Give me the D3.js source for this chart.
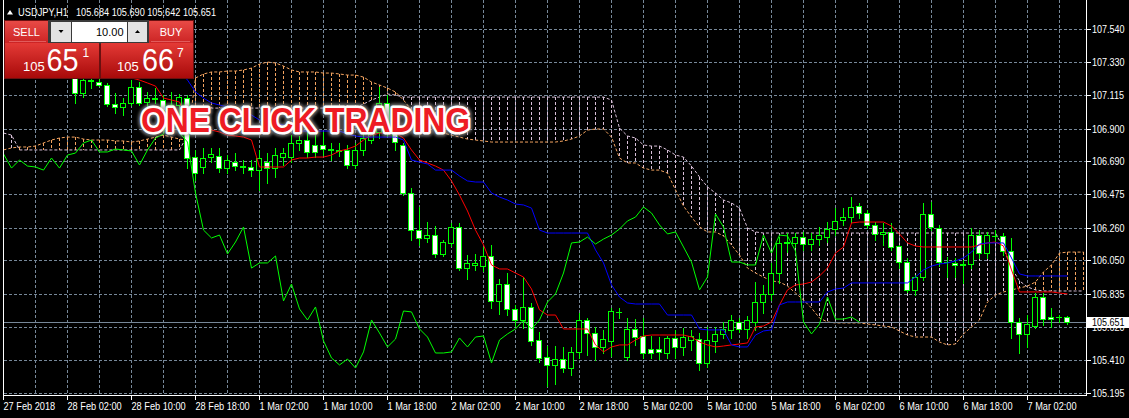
<!DOCTYPE html>
<html><head><meta charset="utf-8">
<script src="https://cdn.jsdelivr.net/npm/d3@7/dist/d3.min.js"></script>
<style>html,body{margin:0;padding:0;background:#000;overflow:hidden}svg{display:block}</style>
</head><body>
<svg id="chart" width="1129" height="418"></svg>
<script>
// ---------------- DATA ----------------
const symbol = "USDJPY,H1";
const headerOHLC = ["105.684", "105.690", "105.642", "105.651"];
const lotSize = "10.00";
const sellQuote = ["105", "65", "1"];
const buyQuote = ["105", "66", "7"];
const bannerText = "ONE CLICK TRADING";
const lastPrice = 105.651;
const chikouShift = 26;

const priceTicks = [107.540, 107.330, 107.115, 106.900, 106.690, 106.475, 106.260, 106.050, 105.835, 105.620, 105.410, 105.195];
const timeLabelBars = [0, 8, 16, 24, 32, 40, 48, 56, 64, 72, 80, 88, 96, 104, 112, 120, 128];
const timeLabels = ["27 Feb 2018", "28 Feb 02:00", "28 Feb 10:00", "28 Feb 18:00", "1 Mar 02:00", "1 Mar 10:00", "1 Mar 18:00", "2 Mar 02:00", "2 Mar 10:00", "2 Mar 18:00", "5 Mar 02:00", "5 Mar 10:00", "5 Mar 18:00", "6 Mar 02:00", "6 Mar 10:00", "6 Mar 18:00", "7 Mar 02:00"];

const open = [107.342,107.407,107.439,107.394,107.419,107.471,107.432,107.374,107.329,107.265,
107.129,107.213,107.200,107.181,107.058,107.039,107.065,107.168,107.071,107.090,
107.084,107.007,107.052,107.097,106.716,106.652,106.716,106.723,106.645,106.684,
106.658,106.652,106.632,106.684,106.645,106.716,106.716,106.807,106.826,106.794,
106.794,106.768,106.762,106.762,106.665,106.762,106.826,106.878,107.065,106.871,
106.794,106.484,106.245,106.194,106.213,106.091,106.162,106.265,106.000,106.020,
106.013,106.078,105.788,105.897,105.736,105.665,105.749,105.536,105.426,105.375,
105.413,105.355,105.459,105.665,105.581,105.491,105.530,105.717,105.426,105.607,
105.562,105.478,105.478,105.452,105.549,105.491,105.536,105.542,105.388,105.530,
105.575,105.601,105.652,105.607,105.652,105.781,105.833,105.968,106.162,106.162,
106.200,106.155,106.187,106.200,106.252,106.310,106.329,106.400,106.355,106.278,
106.220,106.233,106.142,106.039,105.859,105.942,106.349,106.258,106.039,106.033,
106.026,106.026,106.213,106.097,106.207,106.207,106.110,105.652,105.575,105.626,
105.813,105.684,105.684,105.684];
const high = [107.439,107.484,107.503,107.471,107.503,107.536,107.484,107.439,107.407,107.310,
107.278,107.239,107.219,107.194,107.129,107.097,107.213,107.200,107.136,107.161,
107.116,107.136,107.123,107.116,106.762,106.775,106.775,106.775,106.729,106.742,
106.697,106.697,106.762,106.742,106.775,106.775,106.858,106.852,106.878,106.858,
106.878,106.807,106.807,106.794,106.807,106.871,106.903,107.168,107.116,106.910,
106.807,106.517,106.394,106.297,106.271,106.181,106.291,106.291,106.084,106.091,
106.136,106.149,105.929,105.968,105.762,105.942,105.775,105.588,105.497,105.497,
105.491,105.491,105.710,105.678,105.620,105.601,105.742,105.742,105.678,105.671,
105.678,105.562,105.555,105.562,105.601,105.613,105.601,105.581,105.620,105.620,
105.652,105.697,105.678,105.691,105.910,105.891,106.033,106.200,106.226,106.226,
106.233,106.226,106.265,106.297,106.387,106.387,106.458,106.420,106.374,106.297,
106.291,106.291,106.149,106.065,105.955,106.420,106.426,106.278,106.071,106.065,
106.052,106.258,106.245,106.233,106.245,106.226,106.194,105.678,105.697,105.839,
105.839,105.742,105.697,105.690];
const low = [107.290,107.355,107.374,107.329,107.368,107.394,107.342,107.278,107.245,107.065,
107.103,107.161,107.174,107.045,107.000,106.987,107.052,107.052,107.019,107.065,
106.903,106.968,106.987,106.645,106.568,106.613,106.684,106.620,106.613,106.632,
106.613,106.594,106.504,106.549,106.588,106.665,106.684,106.762,106.716,106.716,
106.729,106.697,106.723,106.645,106.645,106.729,106.807,106.839,106.852,106.762,
106.471,106.181,106.149,106.168,106.071,106.078,106.142,105.988,105.929,105.988,
105.981,105.742,105.704,105.697,105.626,105.613,105.504,105.394,105.239,105.252,
105.330,105.310,105.420,105.439,105.407,105.452,105.433,105.678,105.407,105.504,
105.420,105.420,105.413,105.420,105.420,105.439,105.472,105.343,105.362,105.459,
105.549,105.549,105.588,105.549,105.601,105.710,105.794,105.904,106.103,106.136,
106.117,106.117,106.149,106.168,106.213,106.278,106.297,106.323,106.258,106.181,
106.149,106.117,106.000,105.846,105.826,105.923,106.245,106.013,105.942,105.942,
105.904,106.000,106.065,106.065,106.168,106.084,105.549,105.452,105.491,105.613,
105.633,105.620,105.652,105.642];
const close = [107.407,107.439,107.394,107.419,107.471,107.432,107.374,107.329,107.278,107.129,
107.213,107.207,107.181,107.058,107.039,107.065,107.168,107.065,107.097,107.097,
107.019,107.052,107.103,106.710,106.613,106.710,106.736,106.645,106.697,106.658,
106.652,106.632,106.710,106.645,106.729,106.742,106.807,106.826,106.749,106.749,
106.768,106.762,106.755,106.665,106.762,106.839,106.865,107.065,106.871,106.813,
106.484,106.245,106.194,106.213,106.091,106.168,106.265,106.000,106.033,106.033,
106.078,105.788,105.897,105.736,105.665,105.749,105.530,105.420,105.375,105.413,
105.355,105.459,105.665,105.581,105.491,105.542,105.723,105.717,105.607,105.555,
105.452,105.452,105.459,105.549,105.491,105.555,105.562,105.388,105.536,105.575,
105.607,105.665,105.607,105.665,105.781,105.833,105.968,106.162,106.168,106.200,
106.155,106.187,106.213,106.252,106.304,106.329,106.394,106.355,106.278,106.220,
106.233,106.136,106.039,105.859,105.942,106.349,106.265,106.039,106.039,106.020,
106.020,106.213,106.097,106.213,106.207,106.110,105.652,105.575,105.639,105.813,
105.671,105.671,105.684,105.651];

const tenkan = [107.374,107.374,107.374,107.374,107.374,107.355,107.342,107.329,107.310,107.290,
107.278,107.265,107.265,107.252,107.239,107.239,107.226,107.213,107.194,107.174,
107.097,107.084,107.071,106.955,106.903,106.890,106.890,106.878,106.858,106.852,
106.845,106.826,106.652,106.652,106.652,106.652,106.697,106.710,106.710,106.716,
106.716,106.729,106.755,106.768,106.787,106.826,106.858,106.871,106.871,106.871,
106.839,106.762,106.697,106.678,106.658,106.632,106.562,106.471,106.368,106.245,
106.149,106.020,105.994,105.994,105.968,105.942,105.865,105.730,105.697,105.697,
105.607,105.607,105.607,105.607,105.504,105.459,105.491,105.504,105.504,105.536,
105.562,105.568,105.568,105.568,105.568,105.568,105.555,105.523,105.504,105.491,
105.497,105.504,105.510,105.517,105.620,105.626,105.652,105.762,105.859,105.891,
105.897,105.910,105.949,106.000,106.097,106.136,106.291,106.297,106.297,106.297,
106.297,106.271,106.220,106.162,106.142,106.136,106.136,106.136,106.136,106.136,
106.136,106.136,106.149,106.162,106.168,106.142,105.988,105.846,105.846,105.846,
105.846,105.846,105.839,105.833];
const kijun = [107.342,107.342,107.342,107.342,107.342,107.342,107.342,107.342,107.342,107.342,
107.342,107.342,107.342,107.342,107.342,107.342,107.342,107.342,107.342,107.342,
107.342,107.310,107.265,107.213,107.136,107.097,107.065,107.052,107.039,107.019,
107.007,106.987,106.955,106.942,106.936,106.923,106.903,106.884,106.884,106.884,
106.884,106.884,106.884,106.865,106.852,106.845,106.845,106.845,106.845,106.845,
106.826,106.697,106.684,106.671,106.632,106.632,106.632,106.594,106.562,106.555,
106.555,106.484,106.458,106.439,106.413,106.407,106.387,106.245,106.226,106.226,
106.226,106.226,106.226,106.226,106.117,106.033,105.891,105.813,105.775,105.768,
105.768,105.768,105.768,105.697,105.697,105.697,105.697,105.607,105.601,105.601,
105.601,105.504,105.491,105.491,105.568,105.594,105.601,105.762,105.781,105.781,
105.781,105.781,105.781,105.846,105.865,105.871,105.904,105.904,105.904,105.904,
105.904,105.904,105.904,105.904,105.942,105.988,106.013,106.026,106.033,106.046,
106.065,106.103,106.155,106.162,106.162,106.162,106.065,105.962,105.949,105.949,
105.949,105.949,105.949,105.949];
const spanA = [106.762,106.775,106.781,106.781,106.787,106.807,106.826,106.839,106.845,106.845,
106.832,106.826,106.826,106.826,106.820,106.820,106.813,106.820,106.832,106.845,
106.858,106.845,106.832,106.826,107.226,107.252,107.265,107.265,107.271,107.271,
107.278,107.290,107.316,107.329,107.323,107.303,107.278,107.265,107.265,107.265,
107.258,107.258,107.252,107.245,107.245,107.232,107.200,107.181,107.161,107.136,
107.084,107.019,106.968,106.923,106.890,106.871,106.858,106.845,106.832,106.826,
106.820,106.813,106.813,106.813,106.813,106.813,106.813,106.813,106.813,106.813,
106.820,106.832,106.852,106.890,106.897,106.897,106.845,106.710,106.678,106.678,
106.645,106.632,106.632,106.613,106.504,106.400,106.329,106.265,106.233,106.233,
106.207,106.149,106.084,106.000,105.968,105.942,105.917,105.910,105.884,105.839,
105.794,105.742,105.678,105.652,105.646,105.646,105.646,105.646,105.639,105.633,
105.626,105.620,105.594,105.568,105.555,105.555,105.555,105.523,105.504,105.510,
105.575,105.620,105.665,105.781,105.826,105.846,105.859,105.871,105.884,105.910,
105.975,106.020,106.097,106.103,106.103,106.103];
const spanB = [106.871,106.858,106.762,106.762,106.762,106.762,106.762,106.762,106.762,106.762,
106.762,106.762,106.762,106.762,106.762,106.762,106.762,106.762,106.762,106.762,
106.762,106.762,106.762,106.858,107.032,107.032,107.032,107.032,107.032,107.032,
107.032,107.032,107.032,107.032,107.032,107.032,107.032,107.032,107.032,107.032,
107.032,107.032,107.032,107.032,107.032,107.058,107.084,107.103,107.123,107.116,
107.103,107.103,107.103,107.103,107.103,107.103,107.103,107.103,107.103,107.103,
107.103,107.103,107.103,107.103,107.103,107.103,107.103,107.103,107.103,107.103,
107.103,107.103,107.103,107.103,107.103,107.103,107.084,106.903,106.852,106.839,
106.794,106.787,106.787,106.762,106.729,106.716,106.658,106.588,106.523,106.484,
106.439,106.420,106.387,106.258,106.233,106.226,106.226,106.226,106.226,106.226,
106.226,106.226,106.226,106.226,106.226,106.226,106.226,106.226,106.226,106.226,
106.226,106.226,106.226,106.226,106.226,106.226,106.226,106.226,106.226,106.226,
106.226,106.226,106.226,106.226,106.226,106.129,106.000,105.917,105.878,105.859,
105.852,105.852,105.852,105.852,105.852,105.852];

// ---------------- STYLE ----------------
const FONT = "'Liberation Sans', Arial, sans-serif";
const LIME = "#00ff00", GRID = "#778899", SANDY = "#f4a460", THISTLE = "#d8bfd8";
const W = 1129, H = 418;
const PL = 4, PR = 1086, PB = 395;

const svg = d3.select("#chart");
const defs = svg.append("defs");
svg.append("rect").attr("width", W).attr("height", H).attr("fill", "#000");

const x = d3.scaleLinear().domain([0, 135.375]).range([3, 1086]);
const y = d3.scaleLinear().domain([105.181, 107.710]).range([395, 3]);

defs.append("clipPath").attr("id", "plotclip").append("rect")
  .attr("x", PL).attr("y", 0).attr("width", PR - PL).attr("height", PB);

function squeeze(sel, k) {
  sel.each(function () {
    const w = this.getComputedTextLength();
    this.setAttribute("textLength", (w * k).toFixed(1));
    this.setAttribute("lengthAdjust", "spacingAndGlyphs");
  });
}

const g = svg.append("g").attr("clip-path", "url(#plotclip)");

// grid
const gridG = g.append("g").attr("shape-rendering", "crispEdges")
  .attr("stroke", GRID).attr("stroke-dasharray", "3,2");
gridG.selectAll(".hg").data(priceTicks).join("line").attr("class", "hg")
  .attr("x1", PL).attr("x2", PR)
  .attr("y1", d => Math.round(y(d)) + 0.5).attr("y2", d => Math.round(y(d)) + 0.5);
gridG.selectAll(".vg").data(d3.range(4, 136, 4)).join("line").attr("class", "vg")
  .attr("x1", d => x(d) + 0.5).attr("x2", d => x(d) + 0.5)
  .attr("y1", 0).attr("y2", PB);

// cloud histogram
const cloud = spanA.map((a, i) => ({ i, a, b: spanB[i] }));
g.append("g").attr("shape-rendering", "crispEdges").selectAll("line").data(cloud).join("line")
  .attr("x1", d => x(d.i) + 0.5).attr("x2", d => x(d.i) + 0.5)
  .attr("y1", d => y(Math.max(d.a, d.b))).attr("y2", d => y(Math.min(d.a, d.b)))
  .attr("stroke", d => d.a >= d.b ? SANDY : THISTLE)
  .attr("stroke-dasharray", "3,2");

const line = d3.line().x(d => x(d[0]) + 0.5).y(d => y(d[1]));
g.append("path").datum(spanA.map((v, i) => [i, v])).attr("d", line)
  .attr("fill", "none").attr("stroke", SANDY).attr("stroke-dasharray", "3,2");
g.append("path").datum(spanB.map((v, i) => [i, v])).attr("d", line)
  .attr("fill", "none").attr("stroke", THISTLE).attr("stroke-dasharray", "3,2");

// bid line
g.append("line").attr("x1", PL).attr("x2", PR)
  .attr("y1", Math.round(y(lastPrice)) + 0.5).attr("y2", Math.round(y(lastPrice)) + 0.5)
  .attr("stroke", GRID).attr("shape-rendering", "crispEdges");

// candles
const bars = open.map((o, i) => ({ i, o, h: high[i], l: low[i], c: close[i] }));
const cg = g.append("g").attr("shape-rendering", "crispEdges");
cg.selectAll(".wick").data(bars).join("line").attr("class", "wick")
  .attr("x1", d => x(d.i) + 0.5).attr("x2", d => x(d.i) + 0.5)
  .attr("y1", d => Math.round(y(d.h))).attr("y2", d => Math.round(y(d.l)) + 1)
  .attr("stroke", LIME);
const bodyTop = d => Math.round(y(Math.max(d.o, d.c)));
const bodyBot = d => Math.round(y(Math.min(d.o, d.c)));
cg.selectAll(".doji").data(bars.filter(d => bodyBot(d) - bodyTop(d) < 1)).join("line").attr("class", "doji")
  .attr("x1", d => x(d.i) - 3).attr("x2", d => x(d.i) + 3)
  .attr("y1", d => bodyTop(d) + 0.5).attr("y2", d => bodyTop(d) + 0.5)
  .attr("stroke", LIME);
cg.selectAll(".body").data(bars.filter(d => bodyBot(d) - bodyTop(d) >= 1)).join("rect").attr("class", "body")
  .attr("x", d => x(d.i) - 2.5).attr("width", 5)
  .attr("y", d => bodyTop(d) + 0.5).attr("height", d => bodyBot(d) - bodyTop(d))
  .attr("fill", d => d.c < d.o ? "#ffffff" : "#000000")
  .attr("stroke", LIME);

// Ichimoku lines
g.append("path").datum(tenkan.map((v, i) => [i, v])).attr("d", line)
  .attr("fill", "none").attr("stroke", "#ff0000");
g.append("path").datum(kijun.map((v, i) => [i, v])).attr("d", line)
  .attr("fill", "none").attr("stroke", "#0000ff");
g.append("path").datum(close.map((v, i) => [i - chikouShift, v]).filter(d => d[0] >= 0)).attr("d", line)
  .attr("fill", "none").attr("stroke", LIME);

// frame
const frame = svg.append("g").attr("stroke", "#ffffff").attr("shape-rendering", "crispEdges");
frame.append("line").attr("x1", 3.5).attr("x2", 3.5).attr("y1", 0).attr("y2", 396);
frame.append("line").attr("x1", 1086.5).attr("x2", 1086.5).attr("y1", 0).attr("y2", 396);
frame.append("line").attr("x1", 3).attr("x2", 1087).attr("y1", 395.5).attr("y2", 395.5);

// right axis
const ra = svg.append("g").attr("font-family", FONT).attr("font-size", 10).attr("fill", "#ffffff");
ra.selectAll("line").data(priceTicks).join("line")
  .attr("x1", 1087).attr("x2", 1091)
  .attr("y1", d => Math.round(y(d)) + 0.5).attr("y2", d => Math.round(y(d)) + 0.5)
  .attr("stroke", "#ffffff").attr("shape-rendering", "crispEdges");
ra.selectAll("text").data(priceTicks).join("text")
  .attr("x", 1092).attr("y", d => Math.round(y(d)) + 4)
  .text(d => d.toFixed(3)).call(squeeze, 0.9);

// current price label
svg.append("rect").attr("x", 1087).attr("y", Math.round(y(lastPrice)) - 5).attr("width", 42).attr("height", 11).attr("fill", "#ffffff");
svg.append("text").attr("x", 1092).attr("y", Math.round(y(lastPrice)) + 4)
  .attr("font-family", FONT).attr("font-size", 10).attr("fill", "#000")
  .text(lastPrice.toFixed(3)).call(squeeze, 0.9);

// bottom axis
const ba = svg.append("g").attr("font-family", FONT).attr("font-size", 10).attr("fill", "#ffffff");
ba.selectAll("line").data(timeLabelBars).join("line")
  .attr("x1", d => x(d) + 0.5).attr("x2", d => x(d) + 0.5).attr("y1", 396).attr("y2", 400)
  .attr("stroke", "#ffffff").attr("shape-rendering", "crispEdges");
ba.selectAll("text").data(timeLabelBars).join("text")
  .attr("x", d => x(d) + 0.5).attr("y", 410)
  .text((d, k) => timeLabels[k]).call(squeeze, 0.92);

// header
svg.append("path").attr("d", "M7,14.5 L13,14.5 L10,10 Z").attr("fill", "#ffffff");
svg.append("text").attr("x", 18).attr("y", 16).attr("font-family", FONT).attr("font-size", 11)
  .attr("fill", "#ffffff").attr("textLength", 50).attr("lengthAdjust", "spacingAndGlyphs").text(symbol);
svg.append("text").attr("x", 76).attr("y", 16).attr("font-family", FONT).attr("font-size", 11)
  .attr("fill", "#ffffff").attr("textLength", 140).attr("lengthAdjust", "spacingAndGlyphs").text(headerOHLC.join(" "));

// one-click panel
const gBtn = defs.append("linearGradient").attr("id", "btnRed").attr("x1", 0).attr("y1", 0).attr("x2", 0).attr("y2", 1);
gBtn.append("stop").attr("offset", "0%").attr("stop-color", "#e84a46");
gBtn.append("stop").attr("offset", "100%").attr("stop-color", "#cc2424");
const gBig = defs.append("linearGradient").attr("id", "bigRed").attr("x1", 0).attr("y1", 0).attr("x2", 0).attr("y2", 1);
gBig.append("stop").attr("offset", "0%").attr("stop-color", "#e43a36");
gBig.append("stop").attr("offset", "100%").attr("stop-color", "#a80a0a");
const pnl = svg.append("g").attr("font-family", FONT);
pnl.append("rect").attr("x", 4).attr("y", 20).attr("width", 190).attr("height", 59).attr("fill", "#6a1010");
pnl.append("rect").attr("x", 5).attr("y", 21).attr("width", 43).attr("height", 22).attr("fill", "url(#btnRed)");
pnl.append("rect").attr("x", 149).attr("y", 21).attr("width", 44).attr("height", 22).attr("fill", "url(#btnRed)");
pnl.append("rect").attr("x", 48).attr("y", 20).attr("width", 101).attr("height", 24).attr("fill", "#3a3a3a");
pnl.append("rect").attr("x", 51).attr("y", 22).attr("width", 20).attr("height", 20).attr("fill", "#e3e3e3");
pnl.append("rect").attr("x", 72).attr("y", 22).attr("width", 55).attr("height", 20).attr("fill", "#ffffff");
pnl.append("rect").attr("x", 128).attr("y", 22).attr("width", 19).attr("height", 20).attr("fill", "#e3e3e3");
pnl.append("path").attr("d", "M58.5,30 L63.5,30 L61,33 Z").attr("fill", "#000");
pnl.append("path").attr("d", "M135,33 L140,33 L137.5,30 Z").attr("fill", "#000");
pnl.append("text").attr("x", 123.5).attr("y", 36).attr("text-anchor", "end").attr("font-size", 11).attr("fill", "#000").text(lotSize);
pnl.append("text").attr("x", 26.5).attr("y", 36).attr("text-anchor", "middle").attr("font-size", 11).attr("fill", "#fff").text("SELL");
pnl.append("text").attr("x", 171).attr("y", 36).attr("text-anchor", "middle").attr("font-size", 11).attr("fill", "#fff").text("BUY");
pnl.append("line").attr("x1", 9).attr("x2", 46).attr("y1", 41.5).attr("y2", 41.5).attr("stroke", "#f08080").attr("opacity", 0.6);
pnl.append("line").attr("x1", 151).attr("x2", 190).attr("y1", 41.5).attr("y2", 41.5).attr("stroke", "#f08080").attr("opacity", 0.6);
pnl.append("rect").attr("x", 5).attr("y", 43).attr("width", 94).attr("height", 35).attr("fill", "url(#bigRed)");
pnl.append("rect").attr("x", 101).attr("y", 43).attr("width", 92).attr("height", 35).attr("fill", "url(#bigRed)");
function quote(q, x0, x1, x2) {
  pnl.append("text").attr("x", x0).attr("y", 70.5).attr("font-size", 13).attr("fill", "#fff").text(q[0]);
  pnl.append("text").attr("x", x1).attr("y", 71).attr("font-size", 32).attr("fill", "#fff")
    .attr("textLength", 32).attr("lengthAdjust", "spacingAndGlyphs").text(q[1]);
  pnl.append("text").attr("x", x2).attr("y", 56.5).attr("font-size", 12).attr("fill", "#fff").text(q[2]);
}
quote(sellQuote, 23, 46.5, 82.5);
quote(buyQuote, 117, 142, 177);

// banner
const blur = defs.append("filter").attr("id", "soft").attr("x", "-10%").attr("y", "-30%").attr("width", "120%").attr("height", "160%");
blur.append("feGaussianBlur").attr("stdDeviation", 1.5);
const bn = svg.append("g").attr("font-family", FONT).attr("font-weight", "bold").attr("font-size", 35);
bn.append("text").attr("x", 141).attr("y", 131.5).attr("textLength", 329).attr("lengthAdjust", "spacingAndGlyphs")
  .attr("fill", "none").attr("stroke", "#9a9a9a").attr("stroke-width", 9).attr("stroke-linejoin", "round")
  .attr("opacity", 0.7).attr("filter", "url(#soft)").text(bannerText);
bn.append("text").attr("x", 141).attr("y", 131.5).attr("textLength", 329).attr("lengthAdjust", "spacingAndGlyphs")
  .attr("fill", "#ee1c24").attr("stroke", "#ffffff").attr("stroke-width", 5).attr("stroke-linejoin", "round")
  .attr("paint-order", "stroke").text(bannerText);
</script>
</body></html>
